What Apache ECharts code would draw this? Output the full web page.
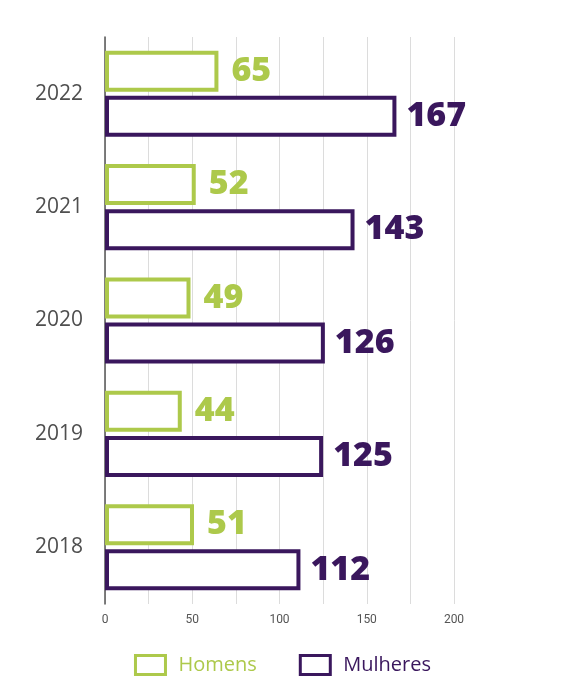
<!DOCTYPE html>
<html><head><meta charset="utf-8">
<script src="https://cdn.jsdelivr.net/npm/echarts@6/dist/echarts.min.js"></script>
<style>html,body{margin:0;padding:0;background:#fff}#c{width:565px;height:690px}</style>
</head><body><div id="c"></div>
<script>
const years = ['2018', '2019', '2020', '2021', '2022'];
const homens = [51, 44, 49, 52, 65];
const mulheres = [112, 125, 126, 143, 167];
const xTicks = [0, 50, 100, 150, 200];

const GREEN = '#adc94b';
const PURPLE = '#3a175d';

const chart = echarts.init(document.getElementById('c'));
chart.setOption({
  animation: false,
  backgroundColor: '#fff',
  grid: { left: 105, right: 111, top: 37, bottom: 86, containLabel: false },
  legend: {
    top: 649, left: 'center', itemGap: 42, itemWidth: 30, itemHeight: 19, icon: 'rect',
    textStyle: { fontFamily: 'Open Sans', fontWeight: 500, fontSize: 20, padding: [0, 0, 0, 8] },
    data: [
      { name: 'Homens', itemStyle: { color: '#fff', borderColor: GREEN, borderWidth: 3 }, textStyle: { color: GREEN } },
      { name: 'Mulheres', itemStyle: { color: '#fff', borderColor: PURPLE, borderWidth: 3 }, textStyle: { color: PURPLE } }
    ]
  },
  xAxis: {
    type: 'value', min: 0, max: 200, interval: 25,
    axisLine: { show: false },
    axisTick: { show: false },
    axisLabel: {
      color: '#555', fontFamily: 'Roboto', fontSize: 12, margin: 10,
      formatter: v => xTicks.includes(v) ? String(v) : ''
    },
    splitLine: { show: true, lineStyle: { color: '#dcdcdc', width: 1 } }
  },
  yAxis: {
    type: 'category', data: years,
    axisLine: { show: true, lineStyle: { color: '#555', width: 1.5 } },
    axisTick: { show: false },
    axisLabel: { color: '#4f4f4f', fontFamily: 'Open Sans', fontWeight: 500, fontSize: 21, margin: 22 }
  },
  series: [
    {
      name: 'Homens', type: 'bar', data: homens, barWidth: 41, barGap: '10%',
      itemStyle: { color: '#fff', borderColor: GREEN, borderWidth: 4 },
      label: { show: true, position: 'right', distance: 13, color: GREEN,
        fontFamily: 'Open Sans', fontWeight: 800, fontSize: 34 }
    },
    {
      name: 'Mulheres', type: 'bar', data: mulheres, barWidth: 41,
      itemStyle: { color: '#fff', borderColor: PURPLE, borderWidth: 4 },
      label: { show: true, position: 'right', distance: 10, color: PURPLE,
        fontFamily: 'Open Sans', fontWeight: 800, fontSize: 34 }
    }
  ]
});
</script></body></html>
